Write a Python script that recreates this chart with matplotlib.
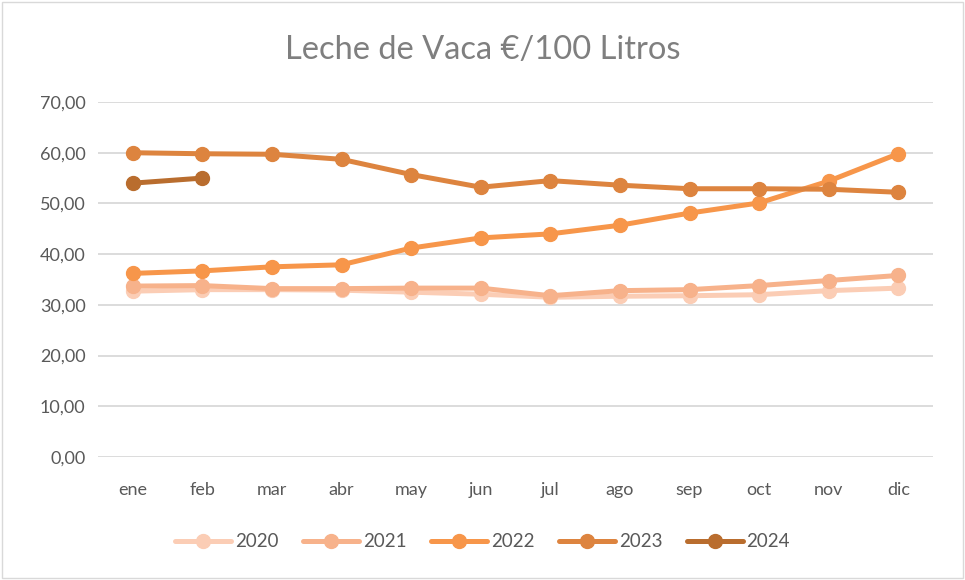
import matplotlib
matplotlib.use("Agg")
import matplotlib.pyplot as plt
import matplotlib.patches as patches

plt.rcParams['font.family'] = ['Lato', 'DejaVu Sans']

meses = ["ene", "feb", "mar", "abr", "may", "jun", "jul", "ago", "sep", "oct", "nov", "dic"]

v2020 = [32.7, 33.0, 33.0, 32.9, 32.5, 32.1, 31.5, 31.7, 31.8, 32.0, 32.8, 33.3]
v2021 = [33.7, 33.8, 33.2, 33.2, 33.3, 33.3, 31.8, 32.8, 33.0, 33.8, 34.8, 35.8]
v2022 = [36.2, 36.7, 37.5, 37.9, 41.2, 43.2, 44.0, 45.7, 48.1, 50.1, 54.4, 59.8]
v2023 = [60.0, 59.8, 59.7, 58.7, 55.7, 53.2, 54.5, 53.6, 52.9, 52.9, 52.8, 52.2]
v2024 = [54.0, 55.0]

series = [
    ("2020", v2020, "#FBCDB5"),
    ("2021", v2021, "#F7B28B"),
    ("2022", v2022, "#F7964A"),
    ("2023", v2023, "#DD843F"),
    ("2024", v2024, "#B96D2E"),
]

yticks = [0, 10, 20, 30, 40, 50, 60, 70]

fig = plt.figure(figsize=(9.65, 5.8), dpi=100)
ax = fig.add_axes([0.1016, 0.2121, 0.8653, 0.612])

x = list(range(len(meses)))
for name, vals, color in series:
    ax.plot(x[:len(vals)], vals, color=color, lw=3.6, marker="o", ms=10,
            solid_capstyle="round", label=name, zorder=3)

ax.set_xlim(-0.5, len(meses) - 0.5)
ax.set_ylim(0, 70)
ax.set_yticks(yticks)
ax.set_yticklabels([f"{v:.2f}".replace(".", ",") for v in yticks])
ax.set_xticks(x)
ax.set_xticklabels(meses)
ax.tick_params(length=0, labelsize=13, colors="#595959", pad=9)
ax.tick_params(axis="x", pad=18)
ax.grid(axis="y", color="#D9D9D9", lw=1.3, zorder=0)
for s in ax.spines.values():
    s.set_visible(False)

fig.text(0.5, 0.914, "Leche de Vaca €/100 Litros", ha="center", va="center",
         fontsize=23.5, color="#7F7F7F")

fig.legend(loc="center", bbox_to_anchor=(0.5, 0.066), ncol=5, frameon=False,
           fontsize=13.5, labelcolor="#595959", handlelength=3.0,
           columnspacing=1.3, handletextpad=0.2)

fig.patches.append(patches.Rectangle((0.002, 0.003), 0.996, 0.994,
                                     transform=fig.transFigure, fill=False,
                                     edgecolor="#D9D9D9", lw=1))

fig.savefig("out.png", dpi=100, facecolor="white")
